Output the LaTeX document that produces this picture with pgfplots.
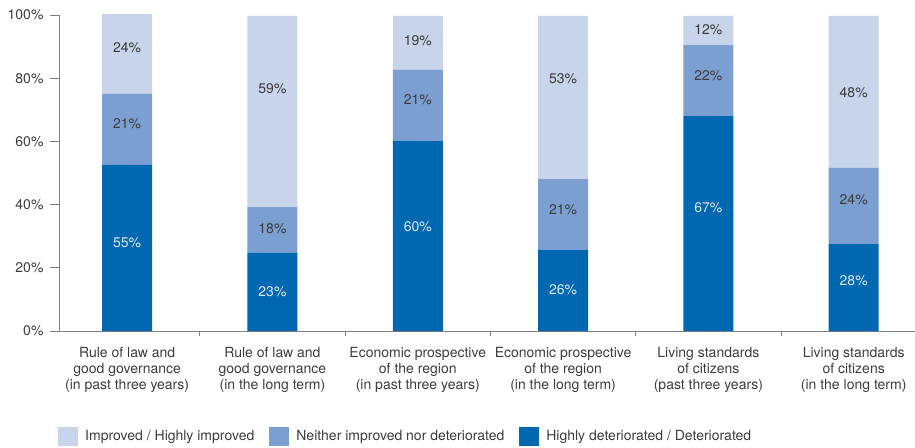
\documentclass[border=0pt]{standalone}
\usepackage{fontspec}
\setmainfont{TeX Gyre Heros}
\usepackage{pgfplots}
\pgfplotsset{compat=1.18}
\definecolor{cdark}{RGB}{0,103,177}
\definecolor{cmed}{RGB}{123,159,209}
\definecolor{clight}{RGB}{199,212,234}
\definecolor{txt}{RGB}{60,60,60}
\definecolor{axgray}{RGB}{128,128,128}
\definecolor{ondark}{RGB}{222,232,246}
\newcommand\fs{\fontsize{14bp}{15.8bp}\selectfont}
\pgfplotsset{common/.style={
  at={(59bp,117bp)}, anchor=south west, scale only axis,
  width=856bp, height=316bp, xmin=-0.469, xmax=5.422, ymin=0, ymax=100}}
\begin{document}
\begin{tikzpicture}
\useasboundingbox (0,0) rectangle (915bp,448bp);
\begin{axis}[common, ybar stacked, bar width=50bp, clip=false,
  axis x line=bottom, axis y line=left,
  axis line style={axgray, line width=0.8bp, -},
  tick align=outside,
  ytick={0,20,40,60,80,100},
  yticklabels={0\%,20\%,40\%,60\%,80\%,100\%},
  ytick style={draw=axgray, line width=0.8bp}, major tick length=9bp,
  xtick={0,1,2,3,4,5},
  xticklabels={{Rule of law and\\good governance\\(in past three years)},
               {Rule of law and\\good governance\\(in the long term)},
               {Economic prospective\\of the region\\(in past three years)},
               {Economic prospective\\of the region\\(in the long term)},
               {Living standards\\of citizens\\(past three years)},
               {Living standards\\of citizens\\(in the long term)}},
  xtick style={draw=none},
  extra x ticks={0.5,1.5,2.5,3.5,4.5},
  extra x tick labels={},
  extra x tick style={xtick style={draw=axgray, line width=0.8bp}, major tick length=5bp},
  ticklabel style={font=\fs, text=txt},
  xticklabel style={align=center, yshift=-4bp},
  yticklabel style={xshift=-3bp},
  /pgf/number format/assume math mode=true,
  reverse legend, legend columns=3,
  legend style={draw=none, fill=none, at={(0,0)}, anchor=west, xshift=-1bp, yshift=-105.5bp,
    font=\fs, text=txt, inner sep=0pt,
    /tikz/every odd column/.append style={column sep=5bp},
    /tikz/every even column/.append style={column sep=13bp}},
  legend image code/.code={\fill[#1, draw=none] (0bp,-9.5bp) rectangle (20bp,9.5bp);},
]
\addplot[fill=cdark, draw=none] coordinates {(0,52.6) (1,24.8) (2,60.1) (3,25.6) (4,68.0) (5,27.5)};
\addlegendentry{Highly deteriorated / Deteriorated}
\addplot[fill=cmed, draw=none] coordinates {(0,22.4) (1,14.4) (2,22.5) (3,22.5) (4,22.5) (5,24.1)};
\addlegendentry{Neither improved nor deteriorated}
\addplot[fill=clight, draw=none] coordinates {(0,25.3) (1,60.5) (2,17.1) (3,51.6) (4,9.2) (5,48.1)};
\addlegendentry{Improved / Highly improved}
\end{axis}
\begin{axis}[common, hide axis, clip=false,
  nodes near coords, point meta=explicit symbolic,
  every node near coord/.append style={anchor=center, font=\fs, inner sep=0pt}]
\addplot[only marks, mark=none, every node near coord/.append style={text=ondark}] table[meta=l] {
x y l
0 27.8 55\%
1 12.4 23\%
2 33.1 60\%
3 13.2 26\%
4 39.1 67\%
5 15.9 28\%
};
\addplot[only marks, mark=none, every node near coord/.append style={text=txt}] table[meta=l] {
x y l
0 65.5 21\%
1 32.4 18\%
2 73.1 21\%
3 38.5 21\%
4 80.8 22\%
5 41.5 24\%
0 89.6 24\%
1 76.8 59\%
2 92.0 19\%
3 80.0 53\%
4 95.4 12\%
5 75.5 48\%
};
\end{axis}
\end{tikzpicture}
\end{document}
